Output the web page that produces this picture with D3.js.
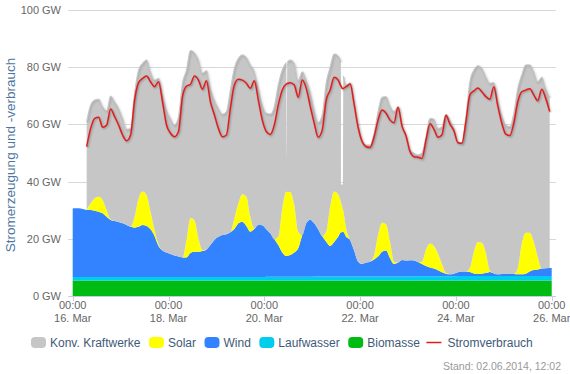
<!DOCTYPE html>
<html><head><meta charset="utf-8">
<script src="https://cdn.jsdelivr.net/npm/d3@7"></script>
<style>
html,body{margin:0;padding:0;background:#fff;}
svg{display:block;font-family:"Liberation Sans",Arial,sans-serif;}
</style></head>
<body><svg id="c" width="570" height="374"></svg>
<script>
// ---- data (GW), time grid: hour 0, odd hours 1..239, hour 240 (from 16.03.2014 00:00) ----
const startUTC = Date.UTC(2014, 2, 16);
const hours = [0, ...d3.range(1, 240, 2), 240];

const biomasse = [5.4,
 5.4,5.4,5.4,5.4,5.4,5.4,5.4,5.4,5.4,5.4, 5.4,5.4,5.4,5.4,5.4,5.4,5.4,5.4,5.4,5.4,
 5.4,5.4,5.4,5.4,5.4,5.4,5.4,5.4,5.4,5.4, 5.4,5.4,5.4,5.4,5.4,5.4,5.4,5.4,5.4,5.4,
 5.4,5.4,5.4,5.4,5.4,5.4,5.4,5.4,5.4,5.4, 5.4,5.4,5.4,5.4,5.4,5.4,5.4,5.4,5.4,5.4,
 5.4,5.4,5.4,5.4,5.4,5.4,5.4,5.4,5.4,5.4, 5.4,5.4,5.4,5.4,5.4,5.4,5.4,5.4,5.4,5.4,
 5.4,5.4,5.4,5.4,5.4,5.4,5.4,5.4,5.4,5.4, 5.4,5.4,5.4,5.4,5.4,5.4,5.4,5.4,5.4,5.4,
 5.4,5.4,5.4,5.4,5.4,5.4,5.4,5.4,5.4,5.4, 5.4,5.4,5.4,5.4,5.4,5.4,5.4,5.4,5.4,5.4,
 5.4];

const laufwasser = [1.2,
 1.2,1.2,1.2,1.2,1.2,1.2,1.2,1.2,1.2,1.2, 1.2,1.2,1.2,1.2,1.2,1.2,1.2,1.2,1.2,1.2,
 1.2,1.2,1.2,1.2,1.2,1.2,1.2,1.2,1.2,1.2, 1.2,1.2,1.2,1.2,1.2,1.2,1.2,1.2,1.2,1.2,
 1.2,1.2,1.2,1.2,1.2,1.2,1.2,1.2,1.3,1.3, 1.3,1.3,1.3,1.3,1.3,1.3,1.3,1.3,1.3,1.3,
 1.4,1.4,1.4,1.4,1.4,1.4,1.4,1.4,1.4,1.4, 1.4,1.4,1.4,1.4,1.4,1.4,1.4,1.4,1.4,1.4,
 1.4,1.4,1.4,1.4,1.5,1.5,1.5,1.5,1.5,1.5, 1.5,1.5,1.5,1.5,1.5,1.5,1.6,1.6,1.6,1.6,
 1.6,1.6,1.6,1.6,1.6,1.6,1.6,1.6,1.6,1.6, 1.6,1.6,1.6,1.6,1.6,1.6,1.6,1.6,1.6,1.6,
 1.6];

const wind = [24.0,
 24.1,24.1,23.8,23.5,23.5,23.2,22.9,22.3,21.1,20.0,
 19.6,19.3,18.8,18.2,17.6,17.3,17.6,18.2,17.9,16.7,
 14.4,10.9,9.3,8.6,8.1,7.6,7.2,6.9,6.9,8.4,
 8.9,8.9,9.1,9.7,11.2,13.0,14.1,14.7,15.0,15.7,
 16.8,18.8,19.4,17.9,15.9,16.8,18.2,18.1,16.6,15.2,
 13.2,11.1,8.5,7.3,7.6,8.5,10.0,14.6,18.7,20.0,
 18.6,16.5,14.2,12.2,10.7,12.1,13.9,15.6,13.9,12.8,
 9.1,5.2,4.4,4.9,5.2,6.0,7.0,8.7,9.1,6.4,
 4.4,4.9,5.8,5.6,5.6,5.5,5.0,4.3,3.6,3.1,
 2.7,2.1,1.4,0.9,0.7,0.9,1.3,1.6,1.6,1.4,
 0.9,0.7,0.8,1.0,1.4,0.9,0.6,0.7,0.7,0.8,
 0.7,0.6,0.6,0.8,1.6,2.1,2.3,2.6,2.7,2.8,
 2.8];

const solar = [0,
 0,0,0,0,2.3,4.4,5.2,4.7,2.3,0.2,
 0,0,0,0,0,3.8,9.9,11.7,10.8,6.2,
 2.1,0.6,0,0,0,0,0,0,6.1,12.3,
 11.0,4.7,0.4,0,0,0,0,0,0,0,
 3.7,7.0,9.6,10.3,5.2,0.3,0,0,0,0,
 0,2.9,15.5,22.5,22.1,16.7,5.8,0,0,0,
 0,0,0,3.5,13.8,17.6,14.9,8.9,2.9,0,
 0,0,0,0,0,1.5,7.6,10.1,9.2,5.8,
 0.8,0,0,0,0,0,0,0.8,5.8,8.4,
 7.9,5.9,2.9,0.3,0,0,0,0,0,1.3,
 7.6,11.2,10.8,7.1,0.5,0,0,0,0,0,
 0,2.1,10.8,14.3,13.5,9.9,4.4,0,0,0,
 0];

const konvKraftwerke = [null,
 null,null,null,30.9,34.4,34.3,34.1,32.6,34.8,43.1,
 41.7,39.7,36.7,33.5,34.4,43.2,44.9,44.9,47.2,48.9,
 52.4,58.0,54.4,49.8,47.4,45.6,48.9,60.9,59.4,58.5,
 58.5,62.3,61.8,62.5,54.8,48.9,44.9,42.3,42.9,49.7,
 52.5,50.7,48.7,48.6,53.1,54.7,47.8,42.1,40.6,41.7,
 46.3,53.1,48.3,45.1,46.1,49.5,52.8,57.1,50.1,44.6,
 39.6,37.4,42.3,51.9,48.7,48.1,48.3,7.7,50.2,55.0,
 52.0,47.8,43.3,41.1,40.8,42.6,43.1,43.9,44.6,47.4,
 52.5,54.5,47.2,43.6,38.5,37.5,37.4,38.1,39.4,43.7,
 44.3,43.7,48.0,55.4,53.7,50.8,45.7,45.0,53.9,65.2,
 63.5,61.6,61.0,61.6,65.5,66.7,60.6,55.2,52.1,51.4,
 56.2,62.9,58.9,58.7,58.7,59.4,61.2,66.9,62.9,59.7,
 null];

const stromverbrauch = [null,
 null,null,null,52.2,58.6,62.1,62.5,59.0,59.8,65.4,
 62.7,59.8,56.3,54.3,56.3,68.5,74.6,76.1,76.9,74.9,
 73.2,74.9,67.9,59.8,56.9,55.7,57.5,69.7,73.4,74.0,
 76.9,75.5,72.3,75.3,67.9,63.3,58.6,55.7,56.3,65.6,
 73.8,75.8,75.5,74.4,72.6,75.3,68.5,61.5,57.5,56.5,
 59.8,66.8,72.0,74.1,74.6,73.8,69.5,75.5,72.6,66.4,
 60.4,55.5,58.0,68.5,72.0,76.5,75.5,72.6,73.2,74.1,
 67.1,59.0,54.0,52.2,51.9,55.7,61.5,65.0,63.9,61.5,
 60.6,66.0,59.4,56.0,50.5,48.7,48.5,48.1,54.5,60.2,
 58.3,55.5,56.4,63.2,60.1,57.8,53.6,53.4,61.0,70.3,
 71.7,72.7,71.4,69.7,68.8,73.2,66.4,60.4,56.6,56.1,
 60.4,67.9,71.4,72.0,72.5,70.3,68.3,72.3,69.1,64.5,
 null];

// short drops of conventional generation, extra samples
const dipHours      = [107.3, 107.5, 134.4, 134.6, 135.4, 135.6];
const dipBiomasse   = [5.4, 5.4, 5.4, 5.4, 5.4, 5.4];
const dipLaufwasser = [1.3, 1.3, 1.4, 1.4, 1.4, 1.4];
const dipWind       = [7.3, 7.3, 15.5, 15.5, 15.6, 15.6];
const dipSolar      = [22.4, 22.4, 10.5, 10.0, 7.8, 7.3];
const dipKonv       = [11.6, 45.4, 49.2, 6.7, 8.8, 47.3];
const dipVerbrauch  = [74.2, 74.3, 73.4, 73.2, 72.5, 72.6];

const tickHours = [0, 48, 96, 144, 192, 240];
const yTicks = [0, 20, 40, 60, 80, 100];

const seriesNames = ["Konv. Kraftwerke", "Solar", "Wind", "Laufwasser", "Biomasse", "Stromverbrauch"];
const colors = {konv:"#c6c6c6", solar:"#ffff00", wind:"#3382ff", hydro:"#00ccee", bio:"#00bb11", load:"#e41b1b"};

// ---- build rows ----
let rows = hours.map((h,i)=>({h, bio:biomasse[i], hydro:laufwasser[i], wind:wind[i], solar:solar[i], konv:konvKraftwerke[i], load:stromverbrauch[i]}));
dipHours.forEach((h,i)=>rows.push({h, bio:dipBiomasse[i], hydro:dipLaufwasser[i], wind:dipWind[i], solar:dipSolar[i], konv:dipKonv[i], load:dipVerbrauch[i]}));
rows.sort((a,b)=>a.h-b.h);
rows.forEach(r=>{ r.date = new Date(startUTC + r.h*3600e3); });

const keys = ["bio","hydro","wind","solar","konv"];
const stack = d3.stack().keys(keys).value((d,k)=> d[k]==null ? 0 : d[k]);
const stacked = stack(rows);

const svg = d3.select("#c");
const x = d3.scaleUtc().domain([new Date(startUTC), new Date(startUTC + 240*3600e3)]).range([72.7, 551.7]);
const y = d3.scaleLinear().domain([0,100]).range([296,10]);
const plotL = 68, plotR = 556;

// gridlines
svg.append("g").selectAll("line").data(yTicks.filter(v=>v>0)).join("line")
  .attr("x1",plotL).attr("x2",plotR).attr("y1",d=>Math.round(y(d))+0.5).attr("y2",d=>Math.round(y(d))+0.5)
  .attr("stroke","#d8d8d8").attr("stroke-width",1);

// areas
const curve = d3.curveMonotoneX;
const gA = svg.append("g");
stacked.forEach(s=>{
  const k = s.key;
  const area = d3.area().curve(curve)
    .defined(d=> k!=="konv" || d.data.konv!=null)
    .x(d=>x(d.data.date)).y0(d=>y(d[0])).y1(d=>y(d[1]));
  gA.append("path").datum(s).attr("d",area).attr("fill",colors[k]);
});

// shadow helper (Highcharts-like)
function shadowPath(g, d, color, width, strength){
  [[5,0.05],[3,0.10],[1,0.15]].forEach(([w,o])=>{
    g.append("path").attr("d",d).attr("fill","none").attr("stroke","#000")
     .attr("stroke-opacity",o*strength).attr("stroke-width",w)
     .attr("stroke-linejoin","round").attr("transform","translate(1,1)");
  });
  g.append("path").attr("d",d).attr("fill","none").attr("stroke",color).attr("stroke-width",width).attr("stroke-linejoin","round");
}
const konvS = stacked[4];
const konvTop = d3.line().curve(curve).defined(d=>d.data.konv!=null && d.data.konv>15)
  .x(d=>x(d.data.date)).y(d=>y(d[1]));
shadowPath(svg.append("g"), konvTop(konvS), colors.konv, 1, 0.35);

const loadLine = d3.line().curve(curve).defined(d=>d.load!=null).x(d=>x(d.date)).y(d=>y(d.load));
shadowPath(svg.append("g"), loadLine(rows), colors.load, 1.5, 0.6);

// x axis
const gx = svg.append("g");
gx.append("line").attr("x1",plotL).attr("x2",plotR).attr("y1",296.5).attr("y2",296.5).attr("stroke","#c0d0e0");
const fTime = d3.utcFormat("%H:%M"), fDay = d3.utcFormat("%d. %b");
tickHours.forEach(h=>{
  const dt = new Date(startUTC + h*3600e3), xx = Math.round(x(dt))+0.5;
  gx.append("line").attr("x1",xx).attr("x2",xx).attr("y1",296).attr("y2",301).attr("stroke","#c0d0e0");
  gx.append("text").attr("x",x(dt)).attr("y",309).attr("text-anchor","middle").attr("font-size",11).attr("fill","#666").text(fTime(dt));
  gx.append("text").attr("x",x(dt)).attr("y",321.5).attr("text-anchor","middle").attr("font-size",11).attr("fill","#666").text(fDay(dt));
});

// y axis labels
svg.append("g").selectAll("text").data(yTicks).join("text")
  .attr("x",61).attr("y",d=>y(d)+4).attr("text-anchor","end").attr("font-size",11).attr("fill","#666")
  .text(d=>d+" GW");
svg.append("text").attr("transform","translate(15,155) rotate(-90)").attr("text-anchor","middle")
  .attr("font-size",13.5).attr("fill","#4d759e").text("Stromerzeugung und -verbrauch");

// legend
const legendColors = [colors.konv, colors.solar, colors.wind, colors.hydro, colors.bio, colors.load];
const gL = svg.append("g");
let lx = 31;
seriesNames.forEach((name,i)=>{
  if (i < 5) {
    gL.append("rect").attr("x",lx).attr("y",337).attr("width",15).attr("height",11).attr("rx",4).attr("fill",legendColors[i]);
  } else {
    gL.append("line").attr("x1",lx-2).attr("x2",lx+13).attr("y1",342.5).attr("y2",342.5).attr("stroke",legendColors[i]).attr("stroke-width",1.5);
  }
  const t = gL.append("text").attr("x",lx+19).attr("y",347).attr("font-size",12).attr("fill","#3e5a78").text(name);
  lx += 19 + t.node().getComputedTextLength() + 8.5;
});

// credits
svg.append("text").attr("x",561).attr("y",370).attr("text-anchor","end").attr("font-size",10.5).attr("fill","#999")
  .text("Stand: 02.06.2014, 12:02");
</script>
</body></html>
